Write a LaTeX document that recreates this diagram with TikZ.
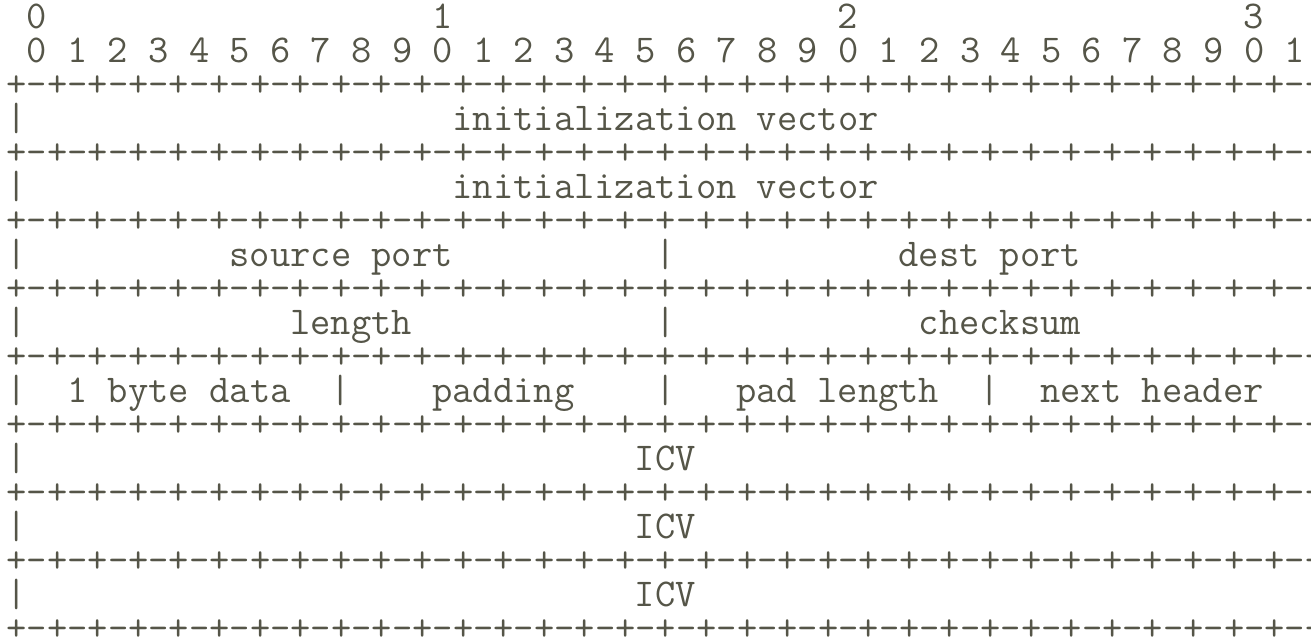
\documentclass[tikz,border=0pt]{standalone}
\usepackage{fontspec}
\setmonofont{Latin Modern Mono}
\definecolor{ink}{RGB}{85,85,72}
\tikzset{tt/.style={anchor=base west,inner sep=0pt,outer sep=0pt,text=ink,font=\fontsize{19.7}{19.7}\selectfont\ttfamily}}
\newcommand\cell[4]{\node[tt] (#1) at ({6.6+20.27*#2},{28.5+34*#3}) {#4};}
\newcommand\border{+-+-+-+-+-+-+-+-+-+-+-+-+-+-+-+-+-+-+-+-+-+-+-+-+-+-+-+-+-+-+-+-+}
\begin{document}
\begin{tikzpicture}[x=0.5pt,y=-0.5pt]
\useasboundingbox (0,0) rectangle (1311,637);
% bit ruler
\cell{h0}{1}{0}{0}
\cell{h1}{21}{0}{1}
\cell{h2}{41}{0}{2}
\cell{h3}{61}{0}{3}
\cell{bits}{1}{1}{0 1 2 3 4 5 6 7 8 9 0 1 2 3 4 5 6 7 8 9 0 1 2 3 4 5 6 7 8 9 0 1}
% separator lines
\foreach \r in {2,4,...,18} {\cell{sep\r}{0}{\r}{\border}}
% left and right bars
\foreach \r in {3,5,...,17} {\cell{lb\r}{0}{\r}{|}\cell{rb\r}{64}{\r}{|}}
% fields
\cell{iv1}{22}{3}{initialization vector}
\cell{iv2}{22}{5}{initialization vector}
\cell{sp}{11}{7}{source port}
\cell{m7}{32}{7}{|}
\cell{dp}{44}{7}{dest port}
\cell{len}{14}{9}{length}
\cell{m9}{32}{9}{|}
\cell{cs}{45}{9}{checksum}
\cell{bd}{3}{11}{1 byte data}
\cell{a11}{16}{11}{|}
\cell{pad}{21}{11}{padding}
\cell{b11}{32}{11}{|}
\cell{pl}{36}{11}{pad length}
\cell{c11}{48}{11}{|}
\cell{nh}{51}{11}{next header}
\cell{icv1}{31}{13}{ICV}
\cell{icv2}{31}{15}{ICV}
\cell{icv3}{31}{17}{ICV}
\end{tikzpicture}
\end{document}
